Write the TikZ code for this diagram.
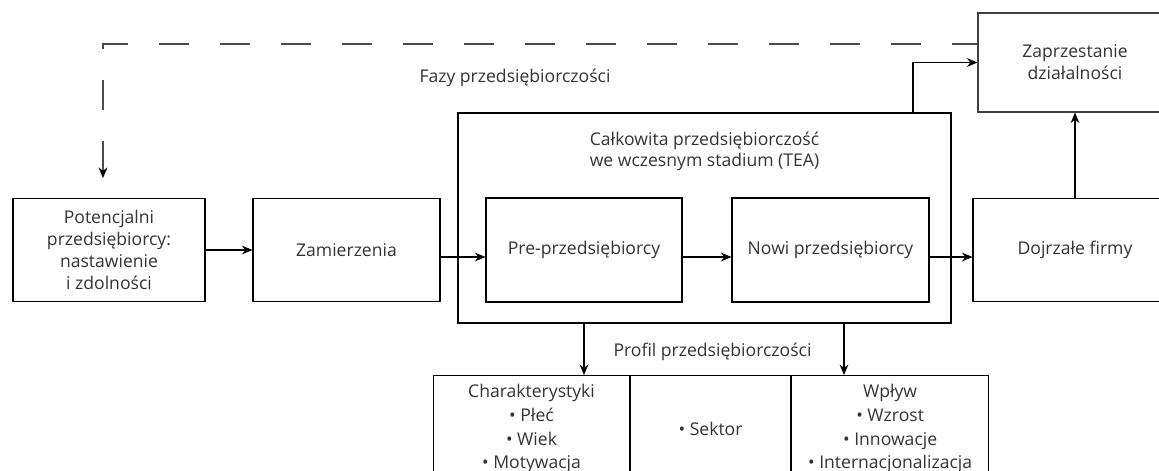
\documentclass[tikz,border=0pt]{standalone}
\usepackage{fontspec}
\setmainfont{Open Sans}
\usepackage{tikz}
\usetikzlibrary{arrows.meta}

\begin{document}
\begin{tikzpicture}[
  phase/.style={rectangle, draw, line width=0.6pt, align=center, minimum width=3.9cm, minimum height=2.06cm, text=black!80, font=\fontsize{10}{12.4}\selectfont},
  cell/.style={rectangle, draw, line width=0.6pt, align=center, minimum height=2.12cm, anchor=north west, text=black!80, font=\fontsize{10}{13.6}\selectfont},
  phasetitle/.style={align=center, text=black!80, font=\fontsize{10}{12.4}\selectfont},
  arrow/.style={-{Stealth[length=6pt, width=5pt]}, line width=0.6pt},
  backarrow/.style={{Stealth[length=6pt, width=5pt, color=black]}-, line width=0.6pt, draw=black!70, dash pattern=on 0.6cm off 0.62cm}
]
\useasboundingbox (0,0) rectangle (23.18,-9.4);

\node[phase, minimum width=3.84cm] (potential) at (2.18,-5.0) {Potencjalni\\przedsiębiorcy:\\nastawienie\\i zdolności};
\node[phase, minimum width=3.74cm] (intent) at (6.93,-5.0) {Zamierzenia};
\node[phase, minimum width=9.86cm, minimum height=4.2cm] (tea) at (14.09,-4.36) {};
\node[phasetitle, anchor=north] (teatitle) at ([yshift=-0.26cm]tea.north) {Całkowita przedsiębiorczość\\we wczesnym stadium (TEA)};
\node[phase, minimum width=3.92cm, minimum height=2.08cm] (nascent) at (11.68,-5.0) {Pre-przedsiębiorcy};
\node[phase, minimum width=3.94cm, minimum height=2.08cm] (newbiz) at (16.61,-5.0) {Nowi przedsiębiorcy};
\node[phase, minimum width=4.08cm] (established) at (21.5,-5.0) {Dojrzałe firmy};
\node[phase, draw=black!75, minimum width=3.88cm, minimum height=1.98cm] (discont) at (21.5,-1.25) {Zaprzestanie\\działalności};

\node[phasetitle] (phases) at (10.3,-1.56) {Fazy przedsiębiorczości};
\node[phasetitle] (profile) at (14.25,-7.04) {Profil przedsiębiorczości};

% profil
\node[cell, minimum width=3.92cm] (traits) at (8.66,-7.5) {Charakterystyki\\• Płeć\\• Wiek\\• Motywacja};
\node[cell, minimum width=3.2cm] (sector) at (traits.north east) {• Sektor};
\node[cell, minimum width=3.94cm] (impact) at (sector.north east) {Wpływ\\• Wzrost\\• Innowacje\\• Internacjonalizacja};

\draw[arrow] (potential) -- (intent);
\draw[arrow] ([yshift=-0.14cm]intent.east) -- ([yshift=-0.14cm]nascent.west);
\draw[arrow] ([yshift=-0.14cm]nascent.east) -- ([yshift=-0.14cm]newbiz.west);
\draw[arrow] ([yshift=-0.14cm]newbiz.east) -- ([yshift=-0.14cm]established.west);
\draw[arrow] (established) -- (discont);

\coordinate (exit) at ([xshift=4.17cm]tea.north);
\draw[arrow] (exit) |- (discont.west);

\coordinate (restart) at (2.06,-3.56);
\draw[backarrow] (restart) |- ([yshift=0.37cm]discont.west);

\coordinate (impactin) at ([xshift=2.79cm]tea.south);
\draw[arrow] (tea.south -| nascent) -- (traits.north -| nascent);
\draw[arrow] (impactin) -- (impactin |- impact.north);

\end{tikzpicture}
\end{document}
